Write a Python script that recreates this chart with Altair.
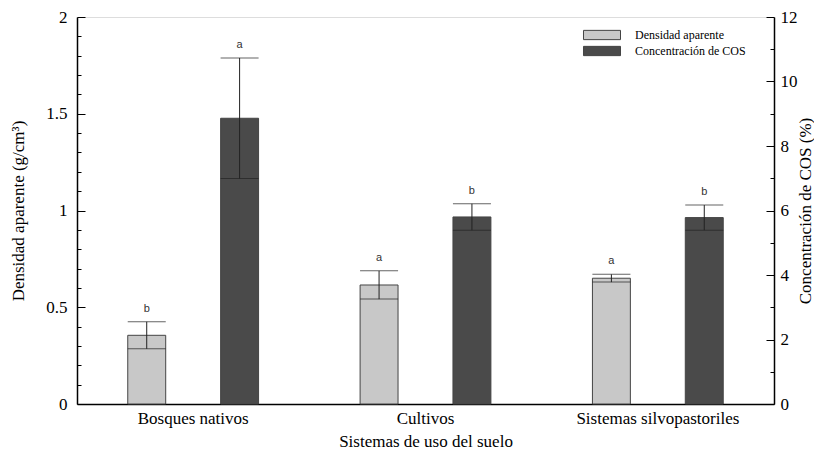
import altair as alt
import pandas as pd

# ---- data ----
sistemas = ["Bosques nativos", "Cultivos", "Sistemas silvopastoriles"]
series = ["Densidad aparente", "Concentración de COS"]
densidad = [0.355, 0.615, 0.65]
densidad_err = [0.07, 0.073, 0.02]
densidad_letras = ["b", "a", "a"]
cos = [8.86, 5.80, 5.78]
cos_err = [1.87, 0.41, 0.39]
cos_letras = ["a", "b", "b"]

left_major = [0, 0.5, 1, 1.5, 2]
left_minor = [0.1, 0.2, 0.3, 0.4, 0.6, 0.7, 0.8, 0.9, 1.1, 1.2, 1.3, 1.4, 1.6, 1.7, 1.8, 1.9]
right_major = [0, 2, 4, 6, 8, 10, 12]
right_minor = [1, 3, 5, 7, 9, 11]

SERIF = "Liberation Serif"
SANS = "Liberation Sans"
W, H = 697, 387

df_da = pd.DataFrame({
    "sistema": sistemas,
    "serie": series[0],
    "valor": densidad,
    "lo": [v - e for v, e in zip(densidad, densidad_err)],
    "hi": [v + e for v, e in zip(densidad, densidad_err)],
    "letra": densidad_letras,
})
df_cos = pd.DataFrame({
    "sistema": sistemas,
    "serie": series[1],
    "valor": cos,
    "lo": [v - e for v, e in zip(cos, cos_err)],
    "hi": [v + e for v, e in zip(cos, cos_err)],
    "letra": cos_letras,
})

x_enc = alt.X(
    "sistema:N", sort=sistemas,
    scale=alt.Scale(paddingInner=0, paddingOuter=0),
    axis=alt.Axis(
        title="Sistemas de uso del suelo", labelAngle=0, ticks=False,
        labelFont=SERIF, labelFontSize=17, labelColor="black", labelPadding=6,
        titleFont=SERIF, titleFontSize=17, titleFontWeight="normal", titleColor="black",
        titlePadding=7, domainColor="black", domainWidth=1.5,
    ),
)
xo_enc = alt.XOffset(
    "serie:N",
    scale=alt.Scale(domain=series, paddingInner=0.5914, paddingOuter=0.5466),
)
color_enc = alt.Color(
    "serie:N",
    scale=alt.Scale(domain=series, range=["#c8c8c8", "#4a4a4a"]),
    legend=alt.Legend(
        title=None, orient="none", legendX=519, legendY=12,
        symbolType="M-4,-1H4V1H-4Z", symbolSize=85.6,
        symbolStrokeColor="#444", symbolStrokeWidth=1, symbolOpacity=1,
        labelFont=SERIF, labelFontSize=12, labelColor="black", labelOffset=27,
        rowPadding=2,
    ),
)


def group(df, domain, label_axis, major_vals, minor_vals, tick_orient):
    scale = alt.Scale(domain=domain, nice=False)
    major_axis = alt.Axis(
        orient=tick_orient, offset=-W, values=major_vals, labels=False, domain=False,
        grid=False, tickSize=8, tickColor="black", tickWidth=1, title=None,
    )
    minor_axis = alt.Axis(
        orient=tick_orient, offset=-W, values=minor_vals, labels=False, domain=False,
        grid=False, tickSize=4, tickColor="black", tickWidth=1, title=None,
    )
    base = alt.Chart(df)
    bars = base.mark_bar(stroke="#444", strokeWidth=1, opacity=1).encode(
        x=x_enc, xOffset=xo_enc,
        y=alt.Y("valor:Q", scale=scale, axis=label_axis),
        color=color_enc,
    )
    stem = base.mark_rule(color="#222", strokeWidth=1).encode(
        x=x_enc, xOffset=xo_enc,
        y=alt.Y("lo:Q", scale=scale, axis=major_axis), y2="hi:Q",
    )
    cap_hi = base.mark_tick(color="#222", thickness=1, size=38).encode(
        x=x_enc, xOffset=xo_enc,
        y=alt.Y("hi:Q", scale=scale, axis=minor_axis),
    )
    cap_lo = base.mark_tick(color="#222", thickness=1, size=38).encode(
        x=x_enc, xOffset=xo_enc,
        y=alt.Y("lo:Q", scale=scale, axis=None),
    )
    text = base.mark_text(font=SANS, fontSize=11, color="#333", dy=-13, baseline="middle").encode(
        x=x_enc, xOffset=xo_enc,
        y=alt.Y("hi:Q", scale=scale, axis=None),
        text="letra:N",
    )
    return alt.layer(bars, stem, cap_hi, cap_lo, text).resolve_axis(y="independent")


left_axis = alt.Axis(
    orient="left", values=left_major, format=".1~f", ticks=False, grid=False,
    labelFont=SERIF, labelFontSize=17, labelColor="black", labelPadding=10,
    title="Densidad aparente (g/cm³)", titleFont=SERIF, titleFontSize=17,
    titleFontWeight="normal", titleColor="black", titlePadding=18,
    domainColor="black", domainWidth=1.5,
)
right_axis = alt.Axis(
    orient="right", values=right_major, format="d", ticks=False, grid=False,
    labelFont=SERIF, labelFontSize=17, labelColor="black", labelPadding=6,
    title="Concentración de COS (%)", titleFont=SERIF, titleFontSize=17,
    titleFontWeight="normal", titleColor="black", titlePadding=0,
    titleAngle=270, titleBaseline="top",
    domainColor="black", domainWidth=1.5,
)

left = group(df_da, [0, 2], left_axis, left_major, left_minor, "right")
right = group(df_cos, [0, 12], right_axis, right_major, right_minor, "left")

chart = (
    alt.layer(left, right)
    .resolve_scale(y="independent")
    .resolve_axis(y="independent")
    .properties(
        width=W, height=H,
        autosize=alt.AutoSizeParams(type="none"),
        padding={"left": 69, "top": 9, "right": 40, "bottom": 47},
    )
    .configure_view(stroke="black", strokeWidth=1.5)
    .configure(background="white")
)

chart.save("out.html", embed_options={"renderer": "svg", "actions": False})
